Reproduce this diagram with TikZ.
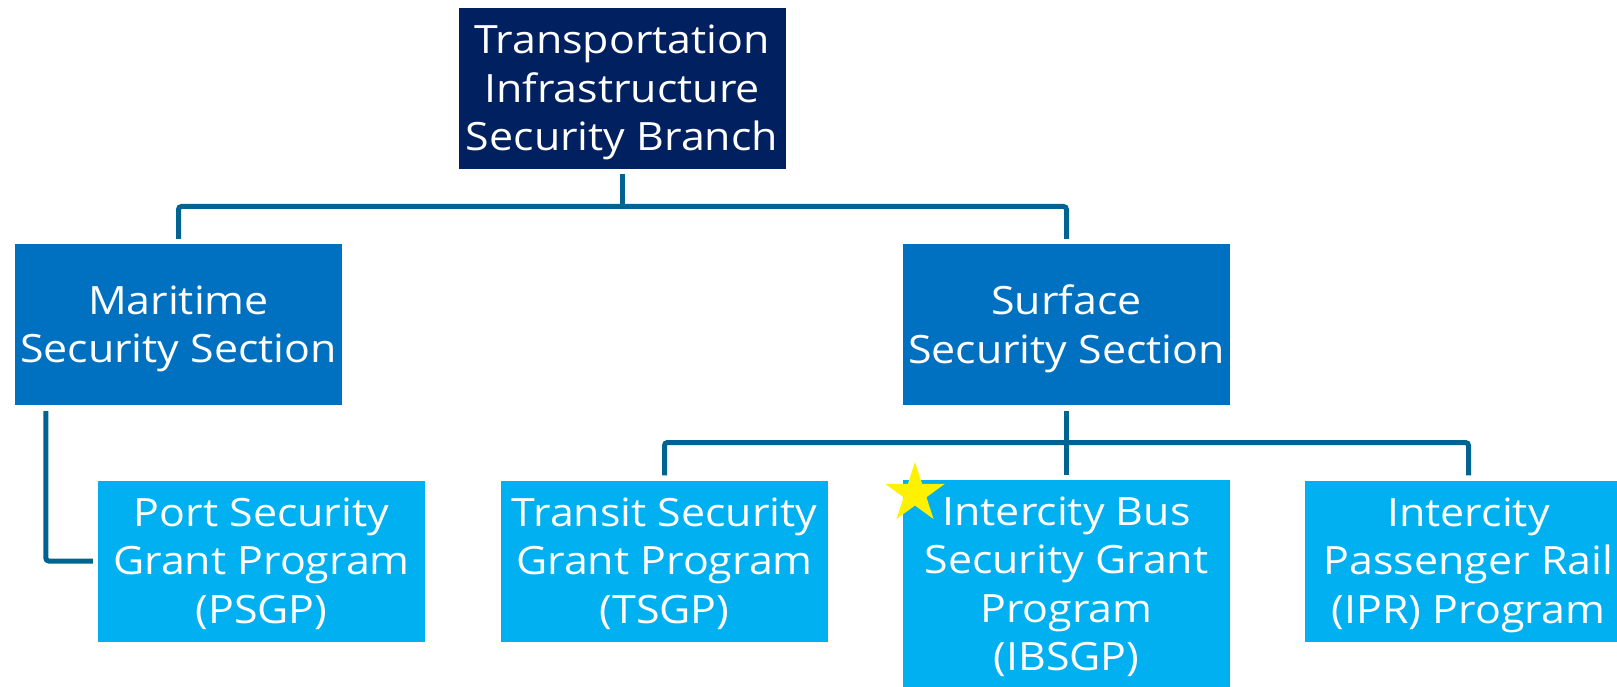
\documentclass[tikz,border=0pt]{standalone}
\usepackage{fontspec}
\setmainfont[FakeStretch=1.1]{Open Sans}
\usetikzlibrary{shapes.geometric,calc}
\definecolor{navyc}{RGB}{0,32,96}
\definecolor{midc}{RGB}{0,112,192}
\definecolor{lightc}{RGB}{0,176,240}
\definecolor{connc}{RGB}{0,99,146}
\begin{document}
\begin{tikzpicture}[x=1pt,y=-1pt,
  box/.style={inner sep=0pt, minimum width=327pt, minimum height=161pt, align=center, text=white,
    text depth=1pt, font=\fontsize{39}{48.5}\selectfont},
  topbox/.style={box, fill=navyc},
  secbox/.style={box, fill=midc},
  progbox/.style={box, fill=lightc},
  conn/.style={draw=connc, line width=5pt, rounded corners=3pt}]
\useasboundingbox (0,0) rectangle (1617,687);
\node[topbox] (top) at (622,88.5) {Transportation\\Infrastructure\\Security Branch};
\node[secbox] (mar) at (178.5,324.5) {Maritime\\Security Section};
\node[secbox] (sur) at (1066.5,324.5) {Surface\\Security Section};
\node[progbox] (psgp) at (261.5,561) {Port Security\\Grant Program\\(PSGP)};
\node[progbox] (tsgp) at (664.5,561) {Transit Security\\Grant Program\\(TSGP)};
\node[progbox, minimum height=208pt] (ibsgp) at (1066.5,584) {Intercity Bus\\Security Grant\\Program\\(IBSGP)};
\node[progbox] (ipr) at (1468.5,561) {Intercity\\Passenger Rail\\(IPR) Program};
\node[star, star points=5, star point ratio=2.618, fill=yellow, minimum size=63pt, inner sep=0pt] (star) at (915,493.5) {};
\coordinate (bus1) at (0,206.5);
\coordinate (bus2) at (0,442.5);
\draw[conn] ($(mar.north)+(0,-5)$) |- (bus1 -| sur.north) -- ($(sur.north)+(0,-5)$);
\draw[conn] ($(top.south)+(0,5)$) -- (top.south |- bus1);
\draw[conn] ($(mar.south west)+(31,6)$) |- ($(psgp.west)+(-5,0)$);
\draw[conn] ($(tsgp.north)+(0,-5)$) |- (bus2 -| ipr.north) -- ($(ipr.north)+(0,-5)$);
\draw[conn] ($(sur.south)+(0,6)$) -- ($(ibsgp.north)+(0,-5)$);
\end{tikzpicture}
\end{document}
